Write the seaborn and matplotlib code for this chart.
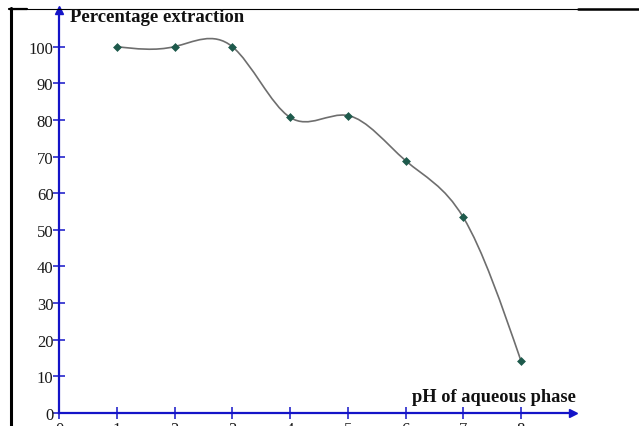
import numpy as np
import pandas as pd
import matplotlib.pyplot as plt
import seaborn as sns
from matplotlib.path import Path
from matplotlib.patches import PathPatch
from matplotlib.lines import Line2D

# values
ph = [1, 2, 3, 4, 5, 6, 7, 8]
extraction = [100, 100, 100, 80.7, 81.2, 68.9, 53.4, 14.2]
x_ticks = [0, 1, 2, 3, 4, 5, 6, 7, 8]
y_ticks = [0, 10, 20, 30, 40, 50, 60, 70, 80, 90, 100]

sns.set_style("white")
plt.rcParams['font.family'] = ['Liberation Serif', 'DejaVu Serif']

W, H = 639, 427
blue = '#1414c8'
fig = plt.figure(figsize=(W / 100, H / 100), dpi=100)
ax = fig.add_axes([59 / W, 13 / H, 514 / W, 403 / H])

df = pd.DataFrame({"ph": ph, "extraction": extraction})

# smooth line through the points: natural spline tangents -> bezier segments
x = np.array(ph, float)
y = np.array(extraction, float)
n = len(x)
h = np.diff(x)
A = np.zeros((n, n))
b = np.zeros(n)
A[0, 0], A[0, 1] = 2 / h[0], 1 / h[0]
b[0] = 3 * (y[1] - y[0]) / h[0] ** 2
A[-1, -2], A[-1, -1] = 1 / h[-1], 2 / h[-1]
b[-1] = 3 * (y[-1] - y[-2]) / h[-1] ** 2
for i in range(1, n - 1):
    A[i, i - 1] = 1 / h[i - 1]
    A[i, i] = 2 * (1 / h[i - 1] + 1 / h[i])
    A[i, i + 1] = 1 / h[i]
    b[i] = 3 * ((y[i] - y[i - 1]) / h[i - 1] ** 2 + (y[i + 1] - y[i]) / h[i] ** 2)
m = np.linalg.solve(A, b)

verts = [(x[0], y[0])]
codes = [Path.MOVETO]
for i in range(n - 1):
    verts += [(x[i] + h[i] / 3, y[i] + m[i] * h[i] / 3),
              (x[i + 1] - h[i] / 3, y[i + 1] - m[i + 1] * h[i] / 3),
              (x[i + 1], y[i + 1])]
    codes += [Path.CURVE4] * 3
ax.add_patch(PathPatch(Path(verts, codes), fill=False, edgecolor='#6e6e6e', lw=1.2, zorder=2))

sns.scatterplot(data=df, x="ph", y="extraction", marker='D', s=16,
                color='#1e5a4c', edgecolor='#1e5a4c', linewidth=0.5, zorder=3, ax=ax)

ax.set_xlim(0, 8.9)
ax.set_ylim(0, 110)
ax.set_xticks(x_ticks)
ax.set_yticks(y_ticks)
ax.set_xlabel('')
ax.set_ylabel('')
for s in ['top', 'right']:
    ax.spines[s].set_visible(False)
for s in ['left', 'bottom']:
    ax.spines[s].set_color(blue)
    ax.spines[s].set_linewidth(1.6)
ax.tick_params(bottom=True, left=True, direction='inout', length=8, width=1.1,
               color=blue, labelsize=12, labelcolor='#1a1a1a')
ax.tick_params(axis='y', pad=0)
ax.tick_params(axis='x', pad=2)

# arrow heads
ax.plot([0], [1], marker='^', ms=6, color=blue, transform=ax.transAxes, clip_on=False)
ax.plot([1], [0], marker='>', ms=6, color=blue, transform=ax.transAxes, clip_on=False)

fig.text(70 / W, 1 - 18 / H, 'Percentage extraction', fontsize=13.5,
         fontweight='bold', va='center', ha='left', color='#111111')
fig.text(576 / W, 1 - 398 / H, 'pH of aqueous phase', fontsize=13.2,
         fontweight='bold', va='center', ha='right', color='#111111')

# cell border lines
fig.add_artist(Line2D([9 / W, 1], [1 - 9.5 / H, 1 - 9.5 / H], color='black', lw=0.8))
fig.add_artist(Line2D([9 / W, 27 / W], [1 - 9.5 / H, 1 - 9.5 / H], color='black', lw=1.6))
fig.add_artist(Line2D([578 / W, 1], [1 - 10 / H, 1 - 10 / H], color='black', lw=1.8))
fig.add_artist(Line2D([10.5 / W, 10.5 / W], [0, 1 - 9 / H], color='black', lw=2.2))

fig.savefig('out.png', dpi=100)
